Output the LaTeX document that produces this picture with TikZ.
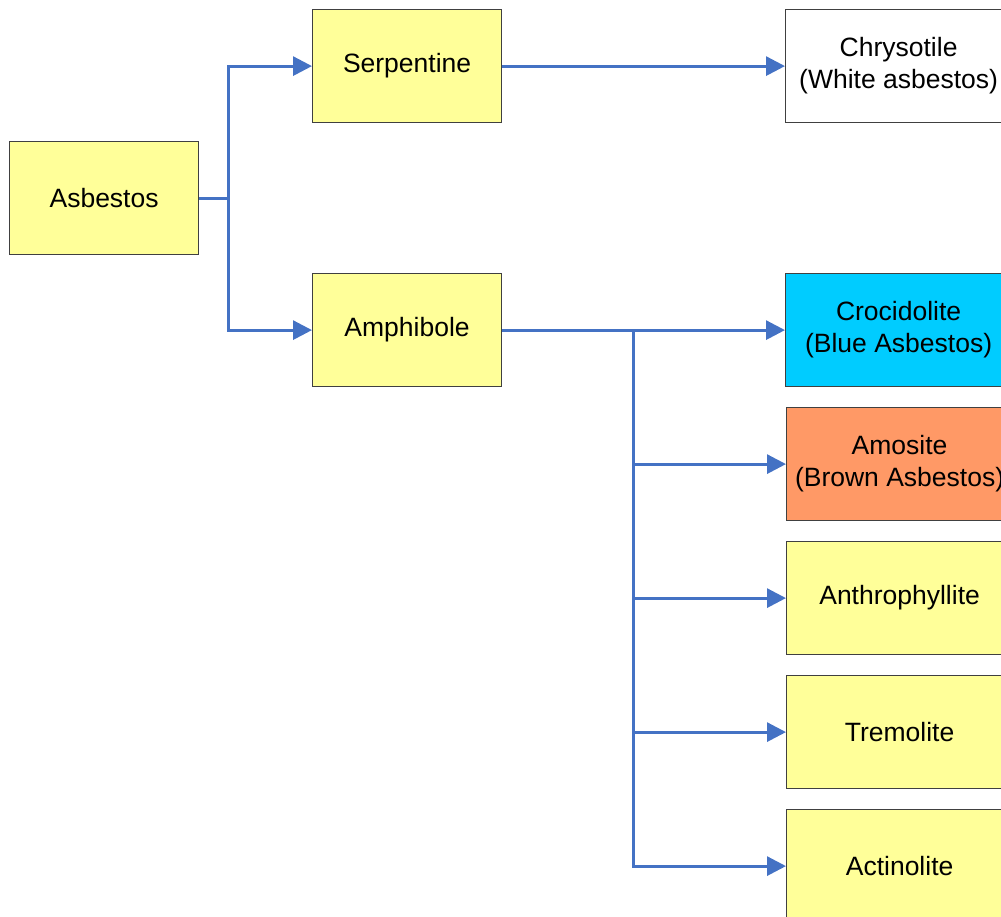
\documentclass[tikz,border=0pt]{standalone}
\usepackage{fontspec}
\setmainfont{Liberation Sans}
\usetikzlibrary{arrows.meta}
\definecolor{boxyellow}{HTML}{FFFF99}
\definecolor{boxblue}{HTML}{00CCFF}
\definecolor{boxorange}{HTML}{FF9966}
\definecolor{linkblue}{HTML}{4472C4}
\begin{document}
\begin{tikzpicture}[x=1pt,y=-1pt,
  box/.style={draw=black!75, line width=1.2pt, minimum width=189pt, minimum height=113pt,
    inner sep=0pt, align=center, font=\fontsize{26.5}{32}\selectfont, anchor=north west},
  wide/.style={box, minimum width=226pt},
  link/.style={draw=linkblue, line width=3pt, -{Triangle[length=19pt,width=19pt]}},
  trunk/.style={draw=linkblue, line width=3pt}]
\useasboundingbox (0,0) rectangle (1001,917);
\node[box, fill=boxyellow] (asb) at (9,141) {Asbestos};
\node[box, fill=boxyellow] (serp) at (312,9) {Serpentine};
\node[box, fill=boxyellow] (amph) at (312,273) {Amphibole};
\node[wide, fill=white] (chry) at (785,9) {Chrysotile\\(White asbestos)};
\node[wide, fill=boxblue] (croc) at (785,273) {Crocidolite\\(Blue Asbestos)};
\node[wide, fill=boxorange] (amos) at (786,407) {Amosite\\(Brown Asbestos)};
\node[wide, fill=boxyellow] (anth) at (786,541) {Anthrophyllite};
\node[wide, fill=boxyellow] (trem) at (786,675) {Tremolite};
\node[wide, fill=boxyellow] (acti) at (786,809) {Actinolite};
\draw[trunk] (asb.east) -- ++(29,0) coordinate (j1);
\coordinate (j2) at (633,0 |- amph.east);
\draw[link] (j1) |- (serp.west);
\draw[link] (j1) |- (amph.west);
\draw[link] (serp.east) -- (chry.west);
\draw[link] (amph.east) -- (croc.west);
\draw[link] (j2) |- (amos.west);
\draw[link] (j2) |- (anth.west);
\draw[link] (j2) |- (trem.west);
\draw[link] (j2) |- (acti.west);
\end{tikzpicture}
\end{document}
